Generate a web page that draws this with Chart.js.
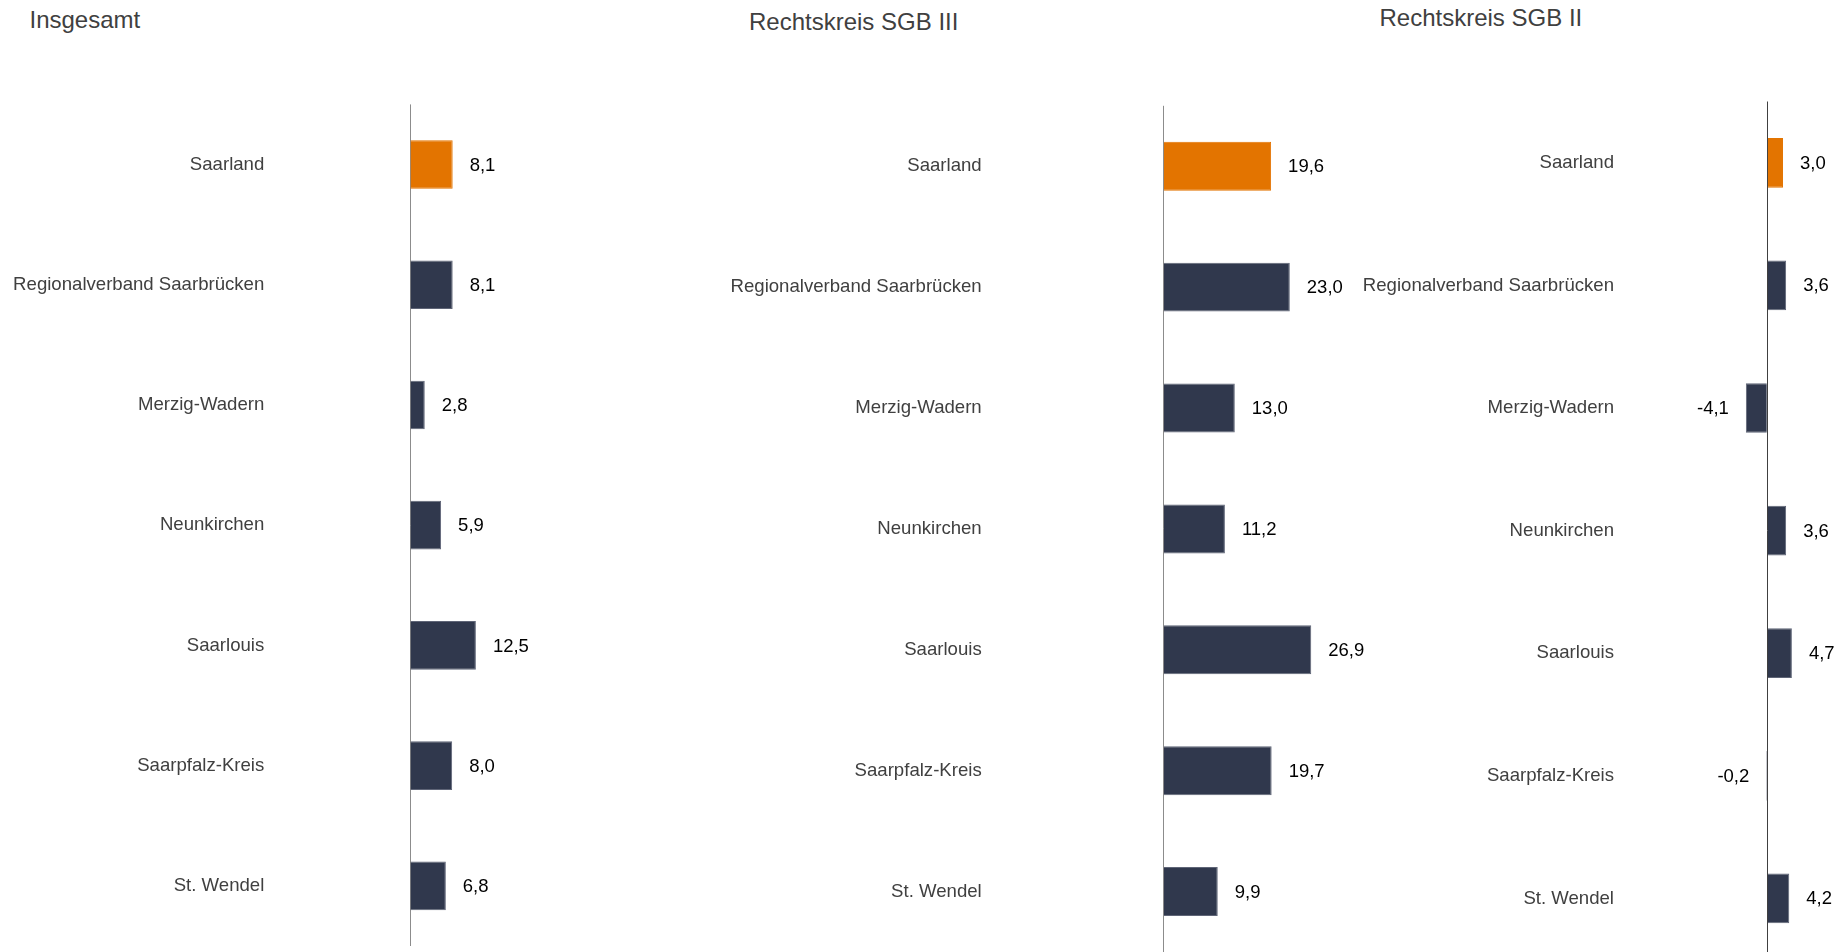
<!DOCTYPE html>
<html>
<head>
<meta charset="utf-8">
<script src="https://cdn.jsdelivr.net/npm/chart.js@4.4.1/dist/chart.umd.min.js"></script>
<style>
  html, body { margin: 0; padding: 0; width: 1842px; height: 952px; overflow: hidden; background: #ffffff; }
  .panel { position: absolute; top: 0; }
  .title { position: absolute; font-family: "Liberation Sans", Arial, sans-serif; font-size: 24px; line-height: 24px; color: #404040; white-space: nowrap; }
</style>
</head>
<body>
<div class="title" id="t0" style="left:29.5px; top:8px;"></div>
<div class="title" id="t1" style="left:749px; top:9.7px;"></div>
<div class="title" id="t2" style="left:1379.5px; top:5.7px;"></div>

<div class="panel" style="left:0px;"><canvas id="c0" width="614" height="952"></canvas></div>
<div class="panel" style="left:614px;"><canvas id="c1" width="760" height="952"></canvas></div>
<div class="panel" style="left:1228px;"><canvas id="c2" width="614" height="962"></canvas></div>

<script>
// ---- data ----
const categories = ['Saarland', 'Regionalverband Saarbrücken', 'Merzig-Wadern', 'Neunkirchen', 'Saarlouis', 'Saarpfalz-Kreis', 'St. Wendel'];
const insgesamt = [8.1, 8.1, 2.8, 5.9, 12.5, 8.0, 6.8];
const sgb3 = [19.6, 23.0, 13.0, 11.2, 26.9, 19.7, 9.9];
const sgb2 = [3.0, 3.6, -4.1, 3.6, 4.7, -0.2, 4.2];
const titles = ['Insgesamt', 'Rechtskreis SGB III', 'Rechtskreis SGB II'];

// ---- layout (local canvas coordinates) ----
const panels = [
  { id: 'c0', data: insgesamt, axisX: 410,   labelRight: 264.3, ppu: 5.27, min: 0,  max: 30, top: 104.4, bottom: 946,   axisColor: '#8c8c8c' },
  { id: 'c1', data: sgb3,      axisX: 549.3, labelRight: 367.7, ppu: 5.5,  min: 0,  max: 30, top: 105.8, bottom: 952,   axisColor: '#8c8c8c' },
  { id: 'c2', data: sgb2,      axisX: 539.3, labelRight: 386,   ppu: 5.23, min: -6, max: 12, top: 101.5, bottom: 959.7, axisColor: '#404040' }
];

const ORANGE = '#E37400';
const NAVY = '#30384D';
const FONT = '"Liberation Sans", Arial, sans-serif';

titles.forEach((t, i) => { document.getElementById('t' + i).textContent = t; });

const valueLabels = {
  id: 'valueLabels',
  afterDatasetsDraw(chart) {
    const ctx = chart.ctx;
    const meta = chart.getDatasetMeta(0);
    const values = chart.data.datasets[0].data;
    ctx.save();
    ctx.font = '18.5px ' + FONT;
    ctx.fillStyle = '#000000';
    ctx.textBaseline = 'middle';
    meta.data.forEach((bar, i) => {
      const v = values[i];
      const txt = v.toFixed(1).replace('.', ',');
      if (v >= 0) {
        ctx.textAlign = 'left';
        ctx.fillText(txt, bar.x + 17, bar.y + 1);
      } else {
        ctx.textAlign = 'right';
        ctx.fillText(txt, Math.min(bar.x, bar.base) - 17, bar.y + 1);
      }
    });
    ctx.restore();
  }
};

panels.forEach(p => {
  const canvas = document.getElementById(p.id);
  const W = canvas.width, H = canvas.height;
  const areaLeft = p.axisX + p.min * p.ppu;
  const areaRight = p.axisX + p.max * p.ppu;
  const colors = p.data.map((v, i) => i === 0 ? ORANGE : NAVY);
  const borders = p.data.map((v, i) => i === 0 ? ORANGE : '#5f6577');
  new Chart(canvas, {
    type: 'bar',
    data: {
      labels: categories,
      datasets: [{
        data: p.data,
        backgroundColor: colors,
        borderColor: borders,
        borderWidth: 1,
        categoryPercentage: 1.0,
        barPercentage: 0.405
      }]
    },
    options: {
      indexAxis: 'y',
      responsive: false,
      animation: false,
      devicePixelRatio: 1,
      layout: { autoPadding: false, padding: { left: 0, top: p.top, bottom: H - p.bottom, right: W - areaRight } },
      plugins: { legend: { display: false }, tooltip: { enabled: false }, title: { display: false } },
      scales: {
        x: {
          min: p.min, max: p.max,
          ticks: { display: false, stepSize: 2 },
          border: { display: false },
          grid: {
            drawTicks: false,
            lineWidth: 1,
            color: (c) => (c.tick && c.tick.value === 0) ? p.axisColor : 'rgba(0,0,0,0)'
          },
          afterFit: (s) => { s.height = 0; s.paddingLeft = 0; s.paddingRight = 0; }
        },
        y: {
          border: { display: false },
          grid: { display: false, drawTicks: false },
          ticks: {
            padding: areaLeft - p.labelRight,
            color: '#404040',
            font: { family: FONT, size: 18.6 },
            autoSkip: false
          },
          afterFit: (s) => { s.width = areaLeft; s.paddingTop = 0; s.paddingBottom = 0; }
        }
      }
    },
    plugins: [valueLabels]
  });
});
</script>
</body>
</html>
